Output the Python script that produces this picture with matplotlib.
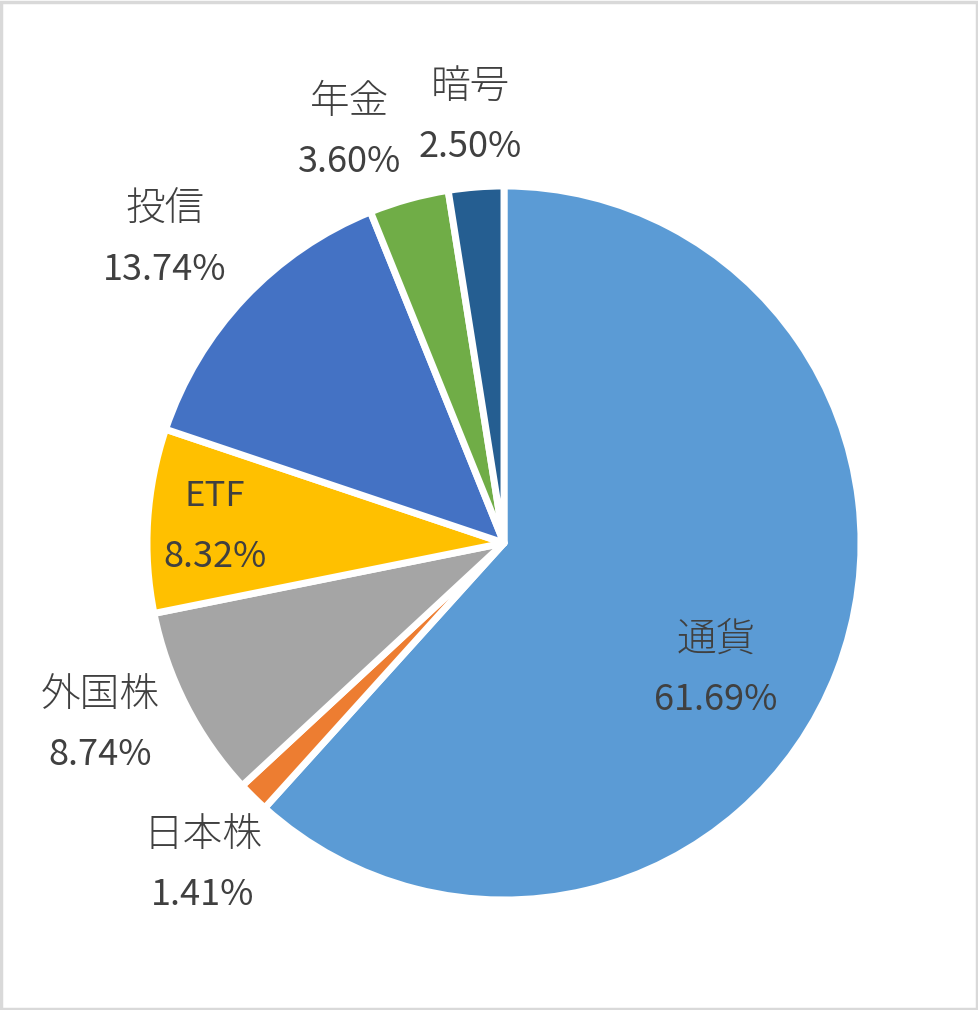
import matplotlib
matplotlib.use("Agg")
import matplotlib.pyplot as plt
from matplotlib.patches import Rectangle

plt.rcParams['font.family'] = ['Noto Sans CJK JP', 'DejaVu Sans']

categories = ["通貨", "日本株", "外国株", "ETF", "投信", "年金", "暗号"]
values = [61.69, 1.41, 8.74, 8.32, 13.74, 3.60, 2.50]
colors = ["#5B9BD5", "#ED7D31", "#A5A5A5", "#FFC000", "#4472C4", "#70AD47", "#255E91"]

# label anchor positions in pixels (x, y from top) for name line and value line
label_pos = [(716, 640), (203, 835), (100, 695), (215, 497), (165, 210), (350, 102), (470, 87)]
line_gap = 60

W, H = 979, 1010
fig = plt.figure(figsize=(W / 100, H / 100), dpi=100)
ax = fig.add_axes([0, 0, 1, 1])

cx, cy, r = 504, H - 543, 357
wedges, _ = ax.pie(values, colors=colors, startangle=90, counterclock=False,
                   center=(cx, cy), radius=r, frame=True,
                   wedgeprops=dict(edgecolor='white', linewidth=5))
for w in wedges:
    w.set_joinstyle('round')
ax.set_xlim(0, W)
ax.set_ylim(0, H)
ax.set_aspect('equal')
ax.axis('off')

txt_color = '#404040'
for name, val, (x, y) in zip(categories, values, label_pos):
    is_ascii = name.isascii()
    ax.text(x, H - y, name, ha='center', va='center',
            fontsize=25 if is_ascii else 28.5, color=txt_color,
            fontweight='normal' if is_ascii else 'light')
    ax.text(x, H - y - line_gap, f"{val:.2f}%", ha='center', va='center', fontsize=26,
            color=txt_color, fontweight='normal')

fig.patches.append(Rectangle((0.001, 0.001), 0.997, 0.997, transform=fig.transFigure,
                             fill=False, edgecolor='#D9D9D9', linewidth=2.5))
fig.savefig("out.png", dpi=100, facecolor='white')
